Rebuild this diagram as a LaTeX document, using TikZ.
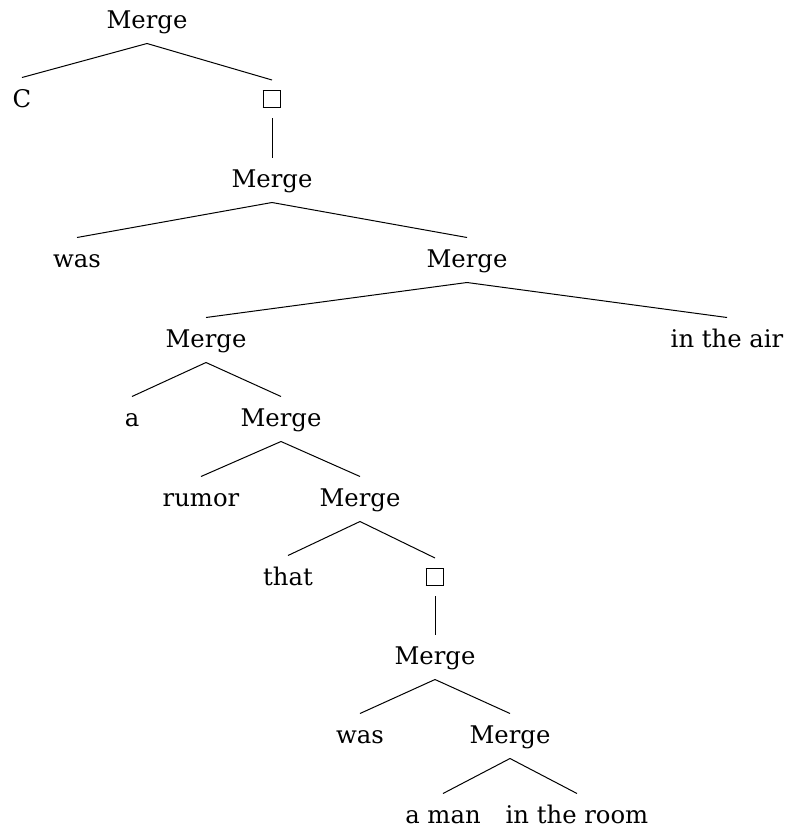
\documentclass[tikz,border=0pt]{standalone}
\usepackage{fontspec}
\setmainfont{DejaVu Serif}
\newcommand\sqbox{{\setlength\fboxsep{0pt}\setlength\fboxrule{1.3pt}\fbox{\phantom{\rule{16pt}{16pt}}}}}
\begin{document}
\begin{tikzpicture}[x=1pt,y=1pt,
  tn/.style={anchor=base,inner sep=0pt,outer sep=0pt,text height=29.5pt,text depth=15.5pt,font=\fontsize{24.3}{29}\selectfont},
  bn/.style={anchor=base,inner sep=0pt,outer sep=0pt,text height=27pt,text depth=11pt},
  edge/.style={line width=1pt}]
\useasboundingbox (0,0) rectangle (786,-830);
\node[tn] (m1) at (147,-28) {Merge};
\node[tn] (c) at (22,-107) {C};
\node[bn] (b1) at (272,-107) {\sqbox};
\node[tn] (m2) at (272,-187) {Merge};
\node[tn] (was1) at (77,-267) {was};
\node[tn] (m3) at (467,-267) {Merge};
\node[tn] (m4) at (206,-347) {Merge};
\node[tn] (air) at (727,-347) {in the air};
\node[tn] (a) at (132,-426) {a};
\node[tn] (m5) at (281,-426) {Merge};
\node[tn] (rumor) at (201,-506) {rumor};
\node[tn] (m6) at (360,-506) {Merge};
\node[tn] (that) at (288,-585) {that};
\node[bn] (b2) at (435,-585) {\sqbox};
\node[tn] (m7) at (435,-664) {Merge};
\node[tn] (was2) at (360,-743) {was};
\node[tn] (m8) at (510,-743) {Merge};
\node[tn] (man) at (443,-823) {a man};
\node[tn] (room) at (577,-823) {in the room};
\foreach \p/\c in {m1/c,m1/b1,b1/m2,m2/was1,m2/m3,m3/m4,m3/air,m4/a,m4/m5,m5/rumor,m5/m6,m6/that,m6/b2,b2/m7,m7/was2,m7/m8,m8/man,m8/room}
  \draw[edge] (\p.south) -- (\c.north);
\end{tikzpicture}
\end{document}
